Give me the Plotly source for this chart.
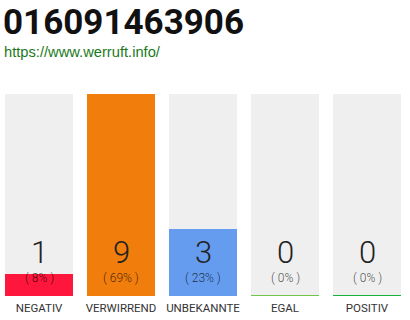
import plotly.graph_objects as go

title = "016091463906"
subtitle = "https://www.werruft.info/"
categories = ["NEGATIV", "VERWIRREND", "UNBEKANNTE", "EGAL", "POSITIV"]
counts = [1, 9, 3, 0, 0]
percents = [8, 69, 23, 0, 0]
colors = ["#ff163c", "#f07d0c", "#659cef", "#72c54b", "#13b33c"]

xs = list(range(len(categories)))
ymax = max(counts)
bw = 68 / 82
THIN = "Roboto, DejaVu Sans Condensed, sans-serif"

fig = go.Figure()
# background columns
fig.add_trace(go.Bar(x=xs, y=[ymax] * len(xs), width=bw, marker=dict(color="#efefef", line_width=0),
                     hoverinfo="skip", showlegend=False))
# value bars
fig.add_trace(go.Bar(x=xs, y=counts, width=bw, marker=dict(color=colors, line_width=0),
                     showlegend=False))
# zero-value baselines
for i, c in enumerate(counts):
    if c == 0:
        fig.add_trace(go.Scatter(x=[xs[i] - bw / 2, xs[i] + bw / 2], y=[0, 0], mode="lines",
                                 line=dict(color=colors[i], width=2), showlegend=False, hoverinfo="skip"))

annotations = []
for i, (c, p) in enumerate(zip(counts, percents)):
    annotations.append(dict(x=xs[i], y=0, xref="x", yref="y", text=str(c), showarrow=False,
                             yanchor="middle", yshift=44,
                             font=dict(family=THIN, size=31, color="#222", weight=300)))
    annotations.append(dict(x=xs[i], y=0, xref="x", yref="y", text="( %d%% )" % p, showarrow=False,
                             yanchor="middle", yshift=18,
                             font=dict(family=THIN, size=12, color="rgba(0,0,0,0.72)", weight=300)))
annotations.append(dict(x=0, y=1, xref="paper", yref="paper", xanchor="left", yanchor="middle",
                        xshift=1, yshift=72, text=title, showarrow=False,
                        font=dict(family="Roboto, sans-serif", size=35, color="#111", weight=700)))
annotations.append(dict(x=0, y=1, xref="paper", yref="paper", xanchor="left", yanchor="middle",
                        xshift=2, yshift=42, text=subtitle, showarrow=False,
                        font=dict(family="Liberation Sans, Arial, sans-serif", size=14.7, color="#1a7a1a")))

fig.update_layout(
    width=410, height=320,
    margin=dict(l=0, r=0, t=94, b=24),
    paper_bgcolor="white", plot_bgcolor="white",
    barmode="overlay", bargap=0,
    annotations=annotations,
    xaxis=dict(range=[-39 / 82, 5 - 39 / 82], tickvals=xs, ticktext=categories, showgrid=False,
               zeroline=False, showline=False, ticks="", fixedrange=True, ticklabelstandoff=3,
               tickfont=dict(family=THIN, size=11.5, color="#333", weight=400)),
    yaxis=dict(range=[0, ymax], visible=False, fixedrange=True),
)

fig.write_html("out.html")
